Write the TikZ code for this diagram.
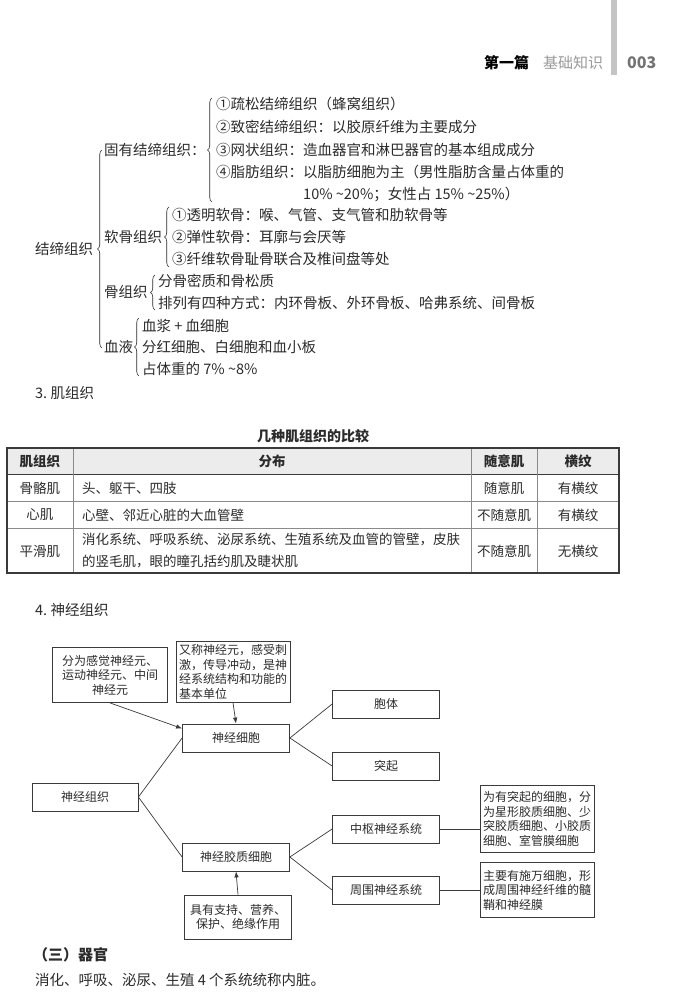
\documentclass[tikz,border=0pt]{standalone}
\usepackage{fontspec}
\setmainfont{Noto Sans CJK SC}
\usepackage{xcolor}
\definecolor{ink}{HTML}{2B2B2B}
\definecolor{boxline}{HTML}{3A3A3A}
\definecolor{headfill}{HTML}{ECECEC}
\definecolor{ruleline}{HTML}{8A8A8A}
\definecolor{pagebar}{HTML}{C4C4C4}
\usepackage{tikz}
\usetikzlibrary{arrows.meta,decorations.pathreplacing,calc}

\begin{document}
\begin{tikzpicture}[
            x=1pt,y=-1pt,>=Latex,
            tx/.style={anchor=west, inner sep=0pt, text=ink, font=\fontsize{14.5}{18}\selectfont},
            brc/.style={decorate, decoration={brace, amplitude=4.5pt}, line width=0.6pt, draw=ink},
            cell/.style={inner sep=0pt, text=ink, font=\fontsize{13.5}{22}\selectfont},
            headcell/.style={cell, font=\fontsize{13.5}{16}\selectfont\bfseries},
            flowbox/.style={draw=boxline, line width=0.8pt, minimum width=107pt, minimum height=28pt, inner sep=2pt, text=ink, align=center, font=\fontsize{12}{14.5}\selectfont},
            notebox/.style={flowbox, align=left, text width=108pt, inner sep=3pt},
            link/.style={draw=boxline, line width=0.7pt},
            arr/.style={link, -{Latex[length=6pt,width=4.5pt]}}
        ]
            \useasboundingbox (0,0) rectangle (677,999);

            % running head
            \fill[pagebar] (611,0) rectangle (617,75);
            \node[anchor=west, inner sep=0pt, font=\fontsize{15}{15}\selectfont\bfseries] (partno) at (484,63) {第一篇};
            \node[anchor=west, inner sep=0pt, text=black!40, font=\fontsize{15}{15}\selectfont] (parttitle) at (543,63) {基础知识};
            \node[anchor=west, inner sep=0pt, text=black!55, font=\fontsize{16}{16}\selectfont\bfseries] (pageno) at (627,63) {003};

            % connective tissue tree
            \node[tx] (jdzz) at (35,249) {结缔组织};
            \draw[brc] (102,348) -- (102,150);
            \node[tx] (gyjd) at (104,150) {固有结缔组织：};
            \draw[brc] (212,202) -- (212,98);
            \node[tx] (gy1) at (216,104) {①疏松结缔组织（蜂窝组织）};
            \node[tx] (gy2) at (216,127) {②致密结缔组织：以胶原纤维为主要成分};
            \node[tx] (gy3) at (216,150) {③网状组织：造血器官和淋巴器官的基本组成成分};
            \node[tx] (gy4) at (216,172) {④脂肪组织：以脂肪细胞为主（男性脂肪含量占体重的};
            \node[tx] (gy5) at (303,194) {10\% \textasciitilde 20\%；女性占 15\% \textasciitilde 25\%）};

            \node[tx] (rgzz) at (104,237) {软骨组织};
            \draw[brc] (169,267) -- (169,207);
            \node[tx] (rg1) at (172,215) {①透明软骨：喉、气管、支气管和肋软骨等};
            \node[tx] (rg2) at (172,237) {②弹性软骨：耳廓与会厌等};
            \node[tx] (rg3) at (172,259) {③纤维软骨耻骨联合及椎间盘等处};

            \node[tx] (ggzz) at (104,292) {骨组织};
            \draw[brc] (155,310) -- (155,275);
            \node[tx] (gg1) at (158,281) {分骨密质和骨松质};
            \node[tx] (gg2) at (158,303) {排列有四种方式：内环骨板、外环骨板、哈弗系统、间骨板};

            \node[tx] (xy) at (104,347) {血液};
            \draw[brc] (139,376) -- (139,318);
            \node[tx] (xy1) at (142,326) {血浆 + 血细胞};
            \node[tx] (xy2) at (142,347) {分红细胞、白细胞和血小板};
            \node[tx] (xy3) at (142,369) {占体重的 7\% \textasciitilde 8\%};

            \node[tx] (sec3) at (35,393) {3.\ 肌组织};

            % muscle table
            \node[font=\fontsize{14}{16}\selectfont\bfseries, text=ink] (tabtitle) at (313,436) {几种肌组织的比较};
            \fill[headfill] (7,448) rectangle (619,474);
            \foreach \y in {501,528} {\draw[ruleline, line width=0.7pt] (7,\y) -- (619,\y);}
            \draw[boxline, line width=0.9pt] (7,474) -- (619,474);
            \foreach \x in {73,471,537} {\draw[ruleline, line width=0.7pt] (\x,448) -- (\x,573);}
            \draw[boxline, line width=1.1pt] (7,448) rectangle (619,573);
            \node[headcell] (h1) at (40,461) {肌组织};
            \node[headcell] (h2) at (272,461) {分布};
            \node[headcell] (h3) at (504,461) {随意肌};
            \node[headcell] (h4) at (578,461) {横纹};
            \node[cell] (r1a) at (40,488) {骨骼肌};
            \node[cell, anchor=west] (r1b) at (82,488) {头、躯干、四肢};
            \node[cell] (r1c) at (504,488) {随意肌};
            \node[cell] (r1d) at (578,488) {有横纹};
            \node[cell] (r2a) at (40,515) {心肌};
            \node[cell, anchor=west] (r2b) at (82,515) {心壁、邻近心脏的大血管壁};
            \node[cell] (r2c) at (504,515) {不随意肌};
            \node[cell] (r2d) at (578,515) {有横纹};
            \node[cell] (r3a) at (40,551) {平滑肌};
            \node[cell, anchor=west, align=left] (r3b) at (82,551) {消化系统、呼吸系统、泌尿系统、生殖系统及血管的管壁，皮肤\\的竖毛肌，眼的瞳孔括约肌及睫状肌};
            \node[cell] (r3c) at (504,551) {不随意肌};
            \node[cell] (r3d) at (578,551) {无横纹};

            \node[tx] (sec4) at (35,610) {4.\ 神经组织};

            % nerve tissue chart
            \node[flowbox, minimum width=115pt, minimum height=55pt] (kinds) at (110,675) {分为感觉神经元、\\运动神经元、中间\\神经元};
            \node[notebox, minimum height=60pt] (neurondef) at (233,672) {又称神经元，感受刺\\激，传导冲动，是神\\经系统结构和功能的\\基本单位};
            \node[flowbox] (neuron) at (236,738) {神经细胞};
            \node[flowbox] (soma) at (386,704) {胞体};
            \node[flowbox] (process) at (386,766) {突起};
            \node[flowbox, minimum width=106pt] (tissue) at (85,797) {神经组织};
            \node[flowbox] (cns) at (386,829) {中枢神经系统};
            \node[flowbox] (pns) at (386,890) {周围神经系统};
            \node[flowbox] (glia) at (236,857) {神经胶质细胞};
            \node[flowbox, minimum height=44pt] (support) at (238,917) {具有支持、营养、\\保护、绝缘作用};
            \node[notebox, minimum height=67pt] (cnsnote) at (537,819) {为有突起的细胞，分\\为星形胶质细胞、少\\突胶质细胞、小胶质\\细胞、室管膜细胞};
            \node[notebox, minimum height=55pt] (pnsnote) at (537,890) {主要有施万细胞，形\\成周围神经纤维的髓\\鞘和神经膜};

            \draw[arr] (kinds.south) -- (neuron.170);
            \draw[arr] (neurondef.south) -- (neuron.north);
            \draw[arr] (support.north) -- (glia.south);
            \draw[link] (tissue.east) -- (neuron.west);
            \draw[link] (tissue.east) -- (glia.west);
            \draw[link] (neuron.east) -- (soma.west);
            \draw[link] (neuron.east) -- (process.west);
            \draw[link] (glia.east) -- (cns.west);
            \draw[link] (glia.east) -- (pns.west);
            \draw[link] (cns.east) -- (cns.east -| cnsnote.west);
            \draw[link] (pns.east) -- (pns.east -| pnsnote.west);

            % organs
            \node[anchor=west, inner sep=0pt, text=ink, font=\fontsize{15}{18}\selectfont\bfseries] (organs) at (33,955) {（三）器官};
            \node[tx] (viscera) at (35,980) {消化、呼吸、泌尿、生殖 4 个系统统称内脏。};
        \end{tikzpicture}
\end{document}
